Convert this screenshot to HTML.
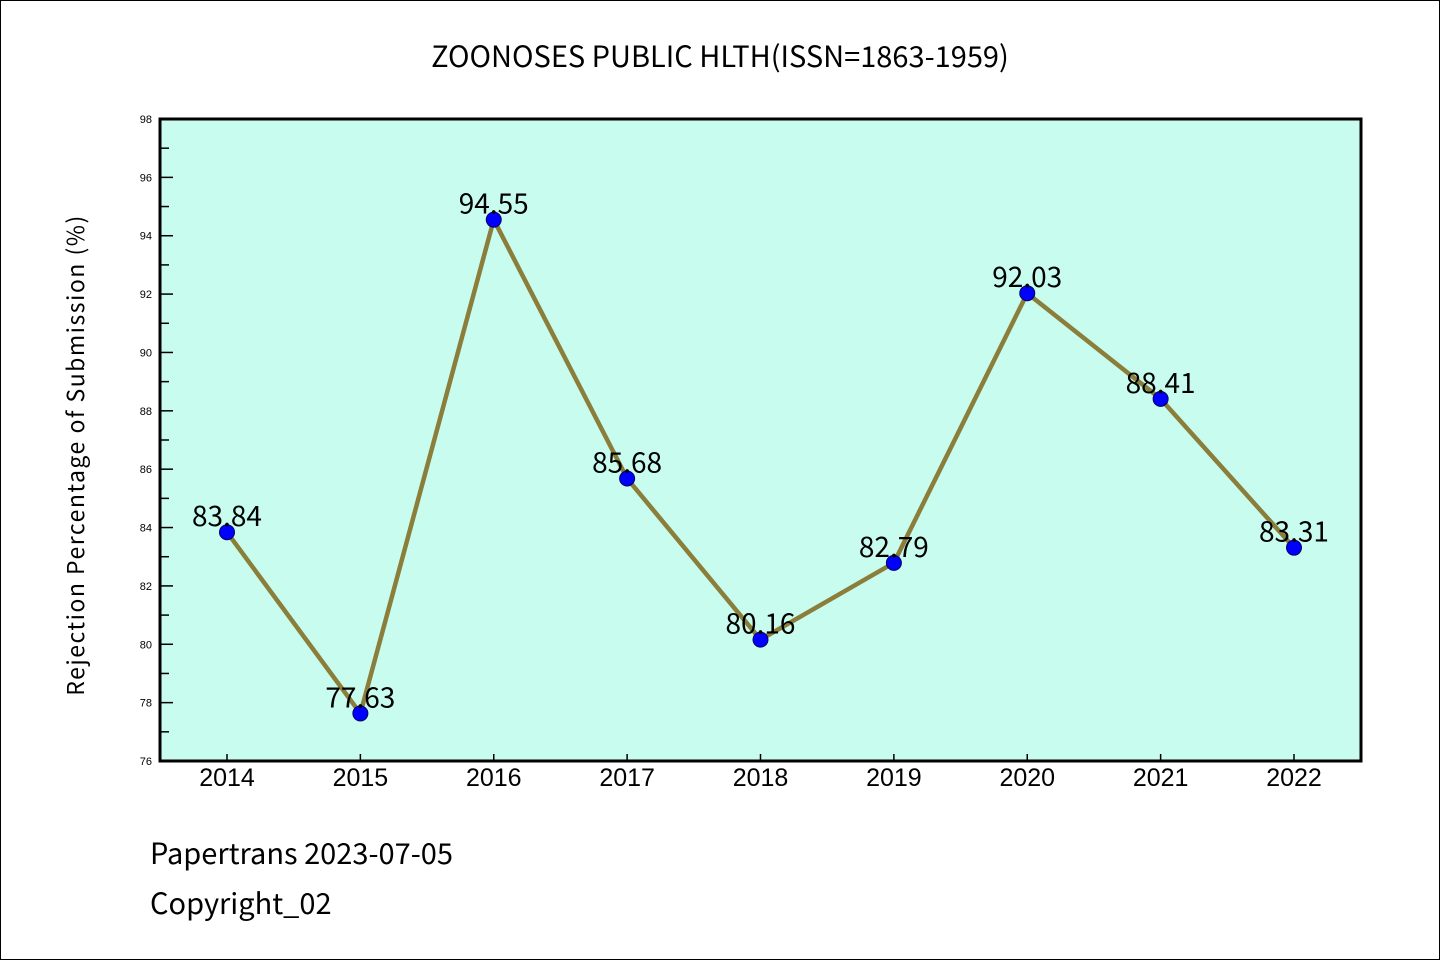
<!DOCTYPE html>
<html><head><meta charset="utf-8"><style>
html,body{margin:0;padding:0;background:#fff;}
svg{display:block;font-family:"WenQuanYi Zen Hei Mono","WenQuanYi Zen Hei","Noto Sans CJK SC",monospace;}
</style></head><body>
<svg id="chart" width="1440" height="960" xmlns="http://www.w3.org/2000/svg">
<rect x="0.5" y="0.5" width="1439" height="959" fill="#fff" stroke="#000" stroke-width="1"/>
<text x="720" y="67" font-size="29" text-anchor="middle">ZOONOSES PUBLIC HLTH(ISSN=1863-1959)</text>
<rect x="160" y="119" width="1201" height="642" fill="#c7fcee"/>
<g id="ticks"></g>
<g id="series"></g>
<rect x="160" y="119" width="1201" height="642" fill="none" stroke="#000" stroke-width="3"/>
<text transform="translate(84,455) rotate(-90)" font-size="23" text-anchor="middle" letter-spacing="1.5">Rejection Percentage of Submission (%)</text>
<text x="150" y="864" font-size="29">Papertrans 2023-07-05</text>
<text x="150" y="914" font-size="29">Copyright_02</text>
</svg>
<script>
const years = ["2014","2015","2016","2017","2018","2019","2020","2021","2022"];
const rates = [83.84,77.63,94.55,85.68,80.16,82.79,92.03,88.41,83.31];
const yTicks = [76,78,80,82,84,86,88,90,92,94,96,98];
const NS="http://www.w3.org/2000/svg";
const x0=160,x1=1361,y0=761,y1=119,yMin=76,yMax=98;
const xs=i=>227+i*(1294-227)/(years.length-1);
const ys=v=>y0-(v-yMin)/(yMax-yMin)*(y0-y1);
function mk(t,a,p){const e=document.createElementNS(NS,t);for(const k in a)e.setAttribute(k,a[k]);p.appendChild(e);return e;}
const tg=document.getElementById('ticks');
yTicks.forEach(v=>{
  const y=ys(v);
  const l=mk('line',{x1:x0,x2:x0+13,y1:y,y2:y,stroke:'#000','stroke-width':1.5},tg);
  
  
  const t=mk('text',{x:x0-8,y:y+4,'font-size':11,'text-anchor':'end','font-family':'Liberation Sans, sans-serif'},tg);
  
  
  t.textContent=v;
  if(v<yMax){const m=ys(v+1);
    const ml=mk('line',{x1:x0,x2:x0+9,y1:m,y2:m,stroke:'#000','stroke-width':1.5},tg);
    
    }
});
years.forEach((yr,i)=>{
  const x=xs(i);
  const l=mk('line',{x1:x,x2:x,y1:y0,y2:y0-7,stroke:'#000','stroke-width':1.5},tg);
  
  
  const t=mk('text',{x:x,y:786,'font-size':25,'text-anchor':'middle','font-family':'Liberation Sans, sans-serif'},tg);
  
  
  t.textContent=yr;
});
const sg=document.getElementById('series');
const pl=mk('polyline',{points:rates.map((v,i)=>xs(i)+','+ys(v)).join(' '),fill:'none',stroke:'#8b7d3a','stroke-width':4.5,'stroke-linejoin':'round'},sg);


rates.forEach((v,i)=>{
  const c=mk('circle',{cx:xs(i),cy:ys(v),r:7.5,fill:'#0000ff',stroke:'#000066','stroke-width':1},sg);
  
  
});
rates.forEach((v,i)=>{
  const t=mk('text',{x:xs(i),y:ys(v)-6,'font-size':28,'text-anchor':'middle'},sg);
  
  
  t.textContent=v.toFixed(2);
});
</script>
</body></html>
